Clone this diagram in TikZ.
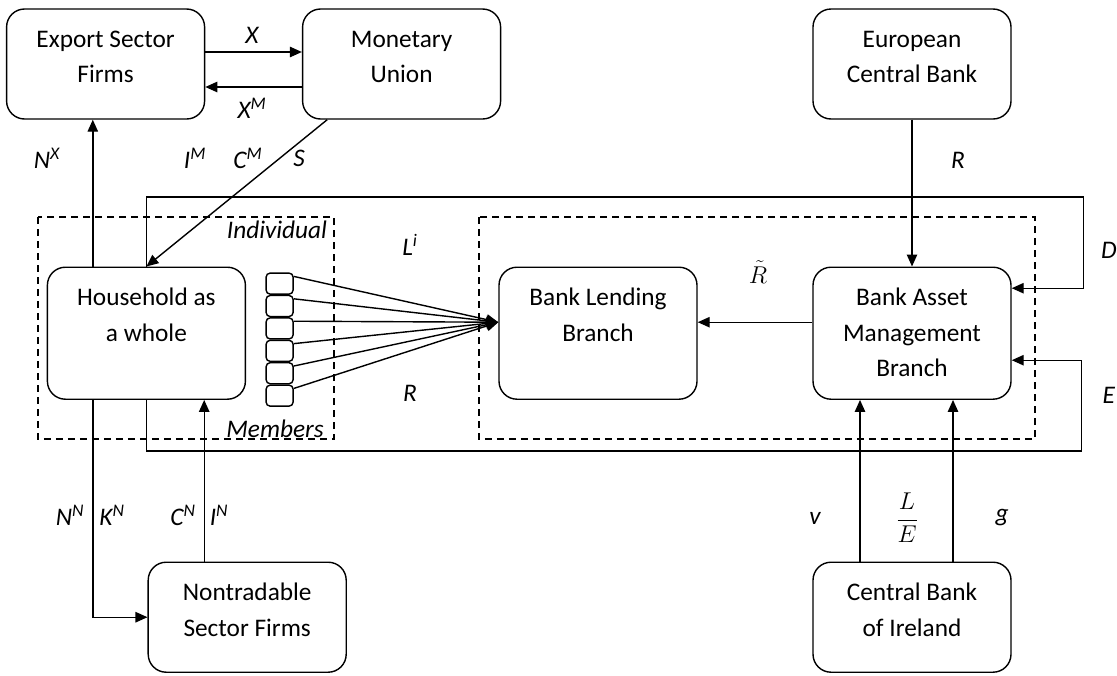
\documentclass[tikz,border=0pt]{standalone}
\usepackage{fontspec}
\setmainfont{Carlito}
\usetikzlibrary{positioning,arrows.meta}

\newcommand{\boxtext}[2]{\parbox[c][#1][t]{4.95cm}{\centering\rule{0pt}{0.95cm}#2}}
\newcommand{\supvar}[2]{\textit{#1}\textsuperscript{\textit{#2}}}

\tikzset{
	sectorbox/.style={draw, rounded corners=0.45cm, inner sep=0pt, line width=1pt},
	member/.style={draw, rounded corners=0.1cm, minimum width=0.675cm, minimum height=0.525cm, inner sep=0pt, line width=1pt},
	flow/.style={-{Triangle[length=0.3cm,width=0.26cm]}, line width=1pt},
	grouping/.style={dash pattern=on 0.18cm off 0.12cm, line width=1pt},
	var/.style={font=\fontsize{18}{22}\selectfont\itshape}
}

\begin{document}
\begin{tikzpicture}[font=\fontsize{18}{25.5}\selectfont]
			\useasboundingbox (0,0) rectangle (27.925,-16.875);
			% dashed groups
			\draw[grouping] (0.95,-5.425) rectangle (8.35,-10.975);
			\draw[grouping] (11.975,-5.425) rectangle (25.875,-10.975);
			% sectors
			\node[sectorbox] (esf) at (2.64,-1.6) {\boxtext{2.75cm}{Export Sector\\Firms}};
			\node[sectorbox] (mu) at (10.04,-1.6) {\boxtext{2.75cm}{Monetary\\Union}};
			\node[sectorbox] (ecb) at (22.8,-1.6) {\boxtext{2.75cm}{European\\Central Bank}};
			\node[sectorbox] (hh) at (3.66,-8.33) {\boxtext{3.3cm}{Household as\\a whole}};
			\node[sectorbox] (blb) at (14.95,-8.33) {\boxtext{3.3cm}{Bank Lending\\Branch}};
			\node[sectorbox] (bamb) at (22.8,-8.33) {\boxtext{3.3cm}{Bank Asset\\Management\\Branch}};
			\node[sectorbox] (nsf) at (6.18,-15.43) {\boxtext{2.75cm}{Nontradable\\Sector Firms}};
			\node[sectorbox] (cbi) at (22.8,-15.43) {\boxtext{2.75cm}{Central Bank\\of Ireland}};
			% household members
			\node[member] (m1) at (6.99,-7.09) {};
			\foreach \i [count=\j from 2] in {1,...,5}
				\node[member, below=0pt of m\i] (m\j) {};
			\coordinate (blin) at ([yshift=0.275cm]blb.west);
			\foreach \i in {1,...,6}
				\draw[flow] ([yshift=-0.1cm]m\i.north east) -- (blin);
			% trade
			\draw[flow] ([yshift=0.3cm]esf.east) -- ([yshift=0.3cm]mu.west);
			\draw[flow] ([yshift=-0.575cm]mu.west) -- ([yshift=-0.575cm]esf.east);
			\draw[flow] ([xshift=-1.86cm]mu.south) -- (hh.north);
			% household and firms
			\coordinate (hhx) at ([xshift=-1.34cm]hh.north);
			\draw[flow] (hhx) -- (hhx |- esf.south);
			\draw[flow] ([xshift=-1.34cm]hh.south) |- (nsf.west);
			\coordinate (nsfx) at ([xshift=-1.075cm]nsf.north);
			\draw[flow] (nsfx) -- (nsfx |- hh.south);
			% deposits and equity
			\coordinate (dtop) at (27.08,-4.925);
			\coordinate (ebot) at (27.03,-11.275);
			\draw[flow] (hh.north) |- (dtop) |- ([yshift=1.125cm]bamb.east);
			\draw[flow] (hh.south) |- (ebot) |- ([yshift=-0.675cm]bamb.east);
			% banks
			\draw[flow] (ecb) -- (bamb);
			\draw[flow] ([yshift=0.275cm]bamb.west) -- ([yshift=0.275cm]blb.east);
			\coordinate (cbiv) at ([xshift=-1.3cm]cbi.north);
			\coordinate (cbig) at ([xshift=1.025cm]cbi.north);
			\draw[flow] (cbiv) -- (cbiv |- bamb.south);
			\draw[flow] (cbig) -- (cbig |- bamb.south);
			% labels
			\node[var] (lx) at (6.3,-0.875) {X};
			\node[var] (lxm) at (6.3,-2.7) {\supvar{X}{M}};
			\node[var] (lnx) at (1.175,-3.95) {\supvar{N}{X}};
			\node[var] (lim) at (4.875,-3.95) {\supvar{I}{M}};
			\node[var] (lcm) at (6.2,-3.95) {\supvar{C}{M}};
			\node[var] (ls) at (7.475,-3.95) {S};
			\node[var] (lrtop) at (23.95,-4.0) {R};
			\node[var] (lind) at (6.925,-5.75) {Individual};
			\node[var] (lmem) at (6.875,-10.725) {Members};
			\node[var] (lli) at (10.25,-6.125) {\supvar{L}{i}};
			\node[var] (lrmid) at (10.25,-9.825) {R};
			\node (lrt) at (18.95,-6.8) {$\tilde{R}$};
			\node[var] (ld) at (27.72,-6.25) {D};
			\node[var] (le) at (27.72,-9.875) {E};
			\node[var] (lnn) at (1.75,-12.875) {\supvar{N}{N}};
			\node[var] (lkn) at (2.8,-12.875) {\supvar{K}{N}};
			\node[var] (lcn) at (4.575,-12.875) {\supvar{C}{N}};
			\node[var] (lin) at (5.475,-12.875) {\supvar{I}{N}};
			\node[var] (lv) at (20.375,-12.95) {v};
			\node (lle) at (22.675,-12.95) {$\displaystyle\frac{L}{E}$};
			\node[var] (lg) at (25.05,-12.95) {g};
		\end{tikzpicture}
\end{document}
